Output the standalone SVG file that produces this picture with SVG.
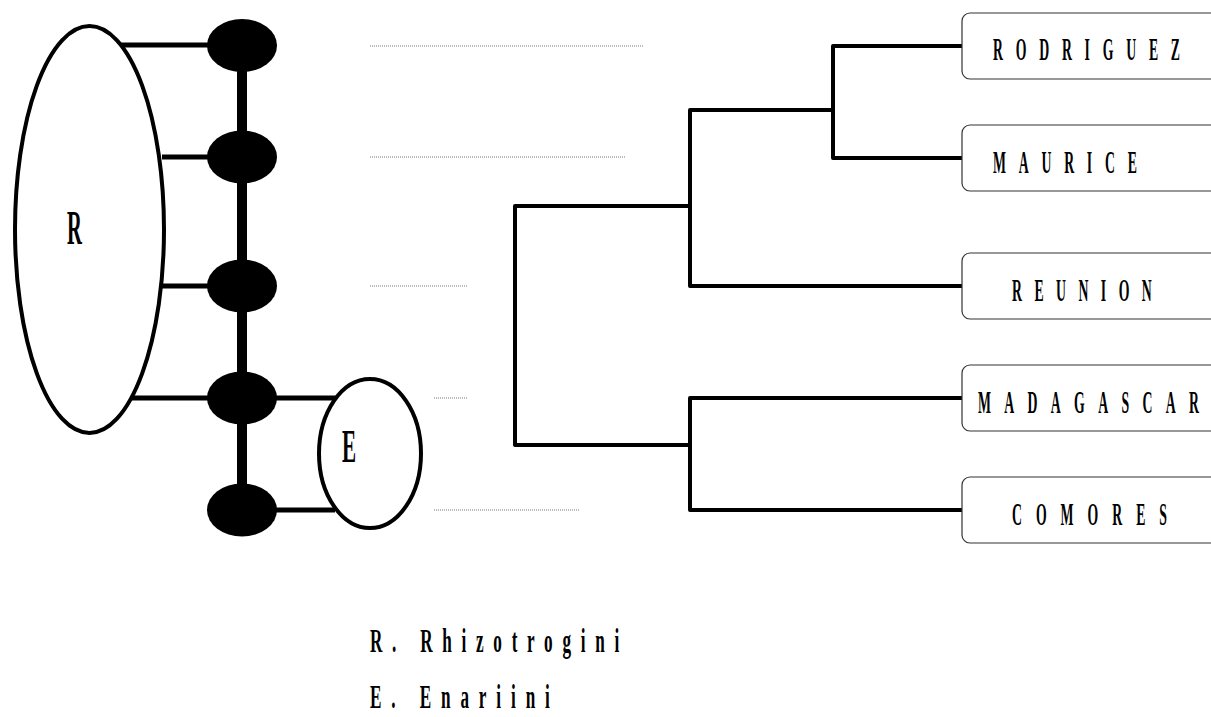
<svg xmlns="http://www.w3.org/2000/svg" width="1211" height="717" viewBox="0 0 1211 717">
<style>
.t{font-family:"Liberation Serif","Times New Roman",serif;font-weight:bold;fill:#000}
.ell{fill:#fff;stroke:#000;stroke-width:4}
.dot{fill:#000}
.link{stroke:#000;stroke-width:5;fill:none}
.spine{stroke:#000;stroke-width:10;fill:none}
.tree{stroke:#000;stroke-width:4;fill:none;stroke-linejoin:round}
.grey{stroke:#777;stroke-width:1;stroke-dasharray:1 1;fill:none}
.box{fill:#fff;stroke:#333;stroke-width:1.2}
</style>
<rect width="1211" height="717" fill="#fff"/>
<g id="connectors">
  <line class="spine" x1="242" y1="45" x2="242" y2="510"/>
  <line class="link" x1="114" y1="45" x2="210" y2="45"/>
  <line class="link" x1="162" y1="157" x2="210" y2="157"/>
  <line class="link" x1="162" y1="286" x2="210" y2="286"/>
  <line class="link" x1="132" y1="398" x2="210" y2="398"/>
  <line class="link" x1="274" y1="398" x2="336" y2="398"/>
  <line class="link" x1="274" y1="510" x2="335" y2="510"/>
  <line class="grey" x1="370" y1="46" x2="643" y2="46"/>
  <line class="grey" x1="370" y1="157" x2="626" y2="157"/>
  <line class="grey" x1="370" y1="286" x2="467" y2="286"/>
  <line class="grey" x1="434" y1="398" x2="467" y2="398"/>
  <line class="grey" x1="434" y1="510" x2="579" y2="510"/>
  <path class="tree" d="M690 206 H515 V445 H690"/>
  <path class="tree" d="M833 110 H690 V286 H962"/>
  <path class="tree" d="M962 46 H833 V158 H962"/>
  <path class="tree" d="M962 398 H690 V510 H962"/>
</g>
<g id="node-R">
  <ellipse class="ell" cx="89.5" cy="229.5" rx="74.5" ry="203.5"/>
  <text class="t" font-size="48" transform="translate(67,244) scale(0.43,1)">R</text>
</g>
<g id="node-E">
  <ellipse class="ell" cx="370" cy="453.5" rx="51" ry="74.5"/>
  <text class="t" font-size="47" transform="translate(342,462) scale(0.45,1)">E</text>
</g>
<g id="dot-1"><ellipse class="dot" cx="242" cy="45.5" rx="35" ry="26.5"/></g>
<g id="dot-2"><ellipse class="dot" cx="242" cy="157" rx="35" ry="26.5"/></g>
<g id="dot-3"><ellipse class="dot" cx="242" cy="286" rx="35" ry="26.5"/></g>
<g id="dot-4"><ellipse class="dot" cx="242" cy="398" rx="35" ry="26.5"/></g>
<g id="dot-5"><ellipse class="dot" cx="242" cy="510" rx="35" ry="26.5"/></g>
<g id="box-rodriguez">
  <rect class="box" x="962" y="13" width="270" height="66" rx="8"/>
  <text class="t" font-size="32" transform="translate(993,60) scale(0.43,1)"><tspan letter-spacing="29.7">RODRIGUE</tspan>Z</text>
</g>
<g id="box-maurice">
  <rect class="box" x="962" y="125" width="270" height="66" rx="8"/>
  <text class="t" font-size="32" transform="translate(993,173) scale(0.43,1)"><tspan letter-spacing="29.7">MAURIC</tspan>E</text>
</g>
<g id="box-reunion">
  <rect class="box" x="962" y="253" width="270" height="66" rx="8"/>
  <text class="t" font-size="32" transform="translate(1012,301) scale(0.43,1)"><tspan letter-spacing="29">REUNIO</tspan>N</text>
</g>
<g id="box-madagascar">
  <rect class="box" x="962" y="365" width="270" height="66" rx="8"/>
  <text class="t" font-size="32" transform="translate(978,413) scale(0.43,1)"><tspan letter-spacing="31">MADAGASCA</tspan>R</text>
</g>
<g id="box-comores">
  <rect class="box" x="962" y="477" width="270" height="66" rx="8"/>
  <text class="t" font-size="32" transform="translate(1012,525) scale(0.43,1)"><tspan letter-spacing="32.5">COMORE</tspan>S</text>
</g>
<g id="legend">
  <text class="t" font-size="33" transform="translate(370,652) scale(0.52,1)"><tspan letter-spacing="18.7">R. Rhizotrogin</tspan>i</text>
  <text class="t" font-size="33" transform="translate(370,708) scale(0.52,1)"><tspan letter-spacing="19">E. Enariin</tspan>i</text>
</g>
</svg>
